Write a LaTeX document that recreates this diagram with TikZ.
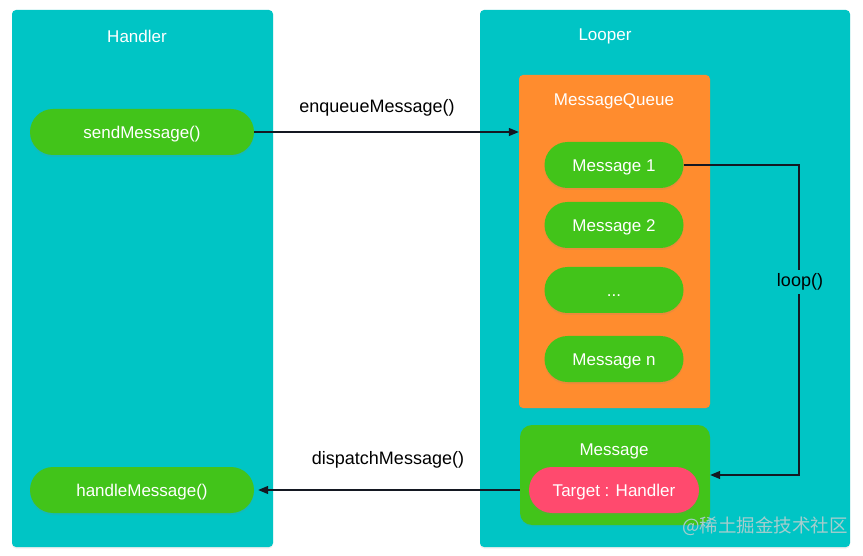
\documentclass[tikz,border=0pt]{standalone}
\usepackage{fontspec}
\setmainfont{Liberation Sans}
\newfontfamily\cjk{Noto Sans CJK SC}
\usetikzlibrary{arrows.meta,shadows,positioning}
\definecolor{panelteal}{RGB}{0,197,197}
\definecolor{pillgreen}{RGB}{66,196,26}
\definecolor{qorange}{RGB}{255,140,46}
\definecolor{tpink}{RGB}{255,74,110}
\definecolor{lineink}{RGB}{20,24,34}
\definecolor{wmark}{RGB}{165,205,205}
\tikzset{
  panel/.style={fill=panelteal, rounded corners=4pt, draw=none,
    drop shadow={opacity=0.12, shadow xshift=0pt, shadow yshift=-1.5pt}},
  pill/.style={fill=pillgreen, rounded corners=23pt, text=white, minimum height=46pt,
    inner sep=0pt, text height=12.5pt, text depth=0pt, font=\fontsize{17}{20}\selectfont,
    drop shadow={opacity=0.15, shadow xshift=0pt, shadow yshift=-2pt}},
  title/.style={text=white, font=\fontsize{17}{20}\selectfont, inner sep=1pt},
  conlabel/.style={text=black, font=\fontsize{18}{21}\selectfont, inner sep=1pt},
  conn/.style={draw=lineink, line width=1.3pt, -{Triangle[length=10pt,width=8pt]}},
}
\begin{document}
\begin{tikzpicture}[x=1pt,y=-1pt]
\useasboundingbox (0,0) rectangle (863,556);
\fill[white] (0,0) rectangle (863,556);
% panels
\node[panel, minimum width=261pt, minimum height=537pt] (handlerbox) at (142.5,278.5) {};
\node[panel, minimum width=370pt, minimum height=537pt] (looperbox) at (665,278.5) {};
\node[title] (handlertitle) at (137,36) {Handler};
\node[title] (loopertitle) at (605,36) {Looper};
% queue
\node[fill=qorange, rounded corners=4pt, minimum width=191pt, minimum height=333pt,
  drop shadow={opacity=0.12, shadow xshift=0pt, shadow yshift=-1.5pt}] (mq) at (614.5,241.5) {};
\node[title] (mqtitle) at (614,101) {MessageQueue};
\node[pill, minimum width=139pt] (m1) at (614,165) {Message 1};
\node[pill, minimum width=139pt] (m2) at (614,225) {Message 2};
\node[pill, minimum width=139pt] (mdots) at (614,290) {...};
\node[pill, minimum width=139pt] (mn) at (614,359) {Message n};
% message box
\node[fill=pillgreen, rounded corners=12pt, minimum width=190pt, minimum height=100pt,
  drop shadow={opacity=0.12, shadow xshift=0pt, shadow yshift=-1.5pt}] (msgbox) at (615,475) {};
\node[title] (msgtitle) at (614,451) {Message};
\node[pill, fill=tpink, minimum width=170pt] (target) at (614,490) {Target : Handler};
% handler pills
\node[pill, minimum width=224pt] (send) at (142,132) {sendMessage()};
\node[pill, minimum width=224pt] (handle) at (142,490) {handleMessage()};
% connectors
\draw[conn] (send.east) -- (send.east -| mq.west);
\node[conlabel] (enqlabel) at (377,108) {enqueueMessage()};
\draw[conn, shorten >=4pt] (msgbox.west |- handle.east) -- (handle.east);
\node[conlabel] (displabel) at (388,460) {dispatchMessage()};
\coordinate (lt) at (799,165);
\coordinate (lb) at (799,475);
\draw[conn] (m1.east) -- (lt) -- (lb) -- (lb -| msgbox.east);
\node[conlabel, fill=panelteal, inner ysep=4pt] (looplabel) at (800,282) {loop()};
% watermark
\node[text=wmark, font=\cjk\fontsize{18.5}{22}\selectfont, inner sep=0pt] (wm) at (765,526) {@稀土掘金技术社区};
\end{tikzpicture}
\end{document}
